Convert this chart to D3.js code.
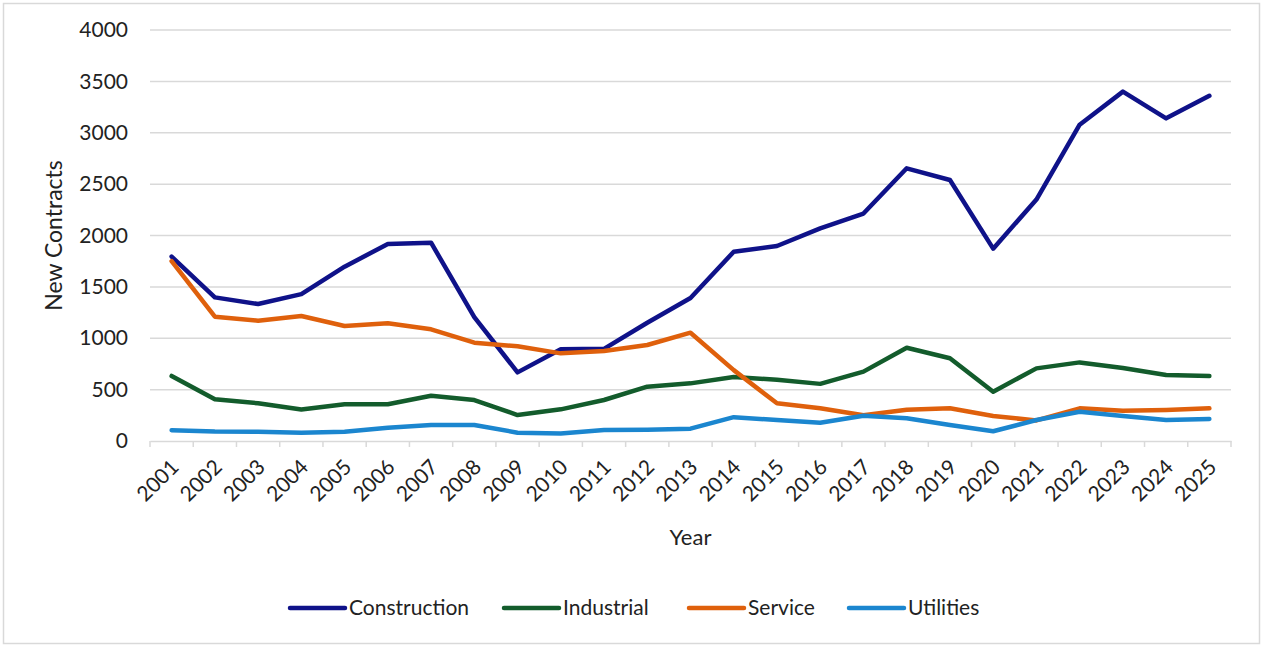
<!DOCTYPE html>
<html><head><meta charset="utf-8">
<script src="https://cdn.jsdelivr.net/npm/d3@7"></script>
<style>
html,body{margin:0;padding:0;background:#fff;}
svg text{font-family:Lato,"Open Sans",sans-serif;fill:#222;}
</style></head>
<body>
<svg id="chart" width="1263" height="647"></svg>
<script>
const years = ["2001","2002","2003","2004","2005","2006","2007","2008","2009","2010","2011","2012","2013","2014","2015","2016","2017","2018","2019","2020","2021","2022","2023","2024","2025"];
const construction = [1795,1398,1333,1430,1697,1917,1930,1205,668,892,897,1151,1392,1842,1898,2070,2214,2654,2540,1872,2350,3078,3400,3140,3360];
const industrial   = [633,406,367,306,357,357,441,399,253,308,399,529,561,622,597,556,675,908,805,480,707,765,710,642,633];
const service      = [1750,1210,1171,1217,1119,1145,1087,957,922,853,876,934,1054,690,367,318,250,305,318,243,200,318,295,302,318];
const utilities    = [104,92,91,81,91,129,156,156,81,72,107,110,120,232,204,178,246,221,156,95,204,285,243,204,214];
const yTicks = [0,500,1000,1500,2000,2500,3000,3500,4000];
const seriesNames = ["Construction","Industrial","Service","Utilities"];
const seriesColors = ["#0f1289","#135c2c","#df600c","#1b86cf"];
const seriesData = [construction, industrial, service, utilities];

const svg = d3.select("#chart");
const W = 1263, H = 647;
const m = {left:150, right:1231, top:30, bottom:441};

svg.append("rect").attr("x",3.5).attr("y",3.5).attr("width",W-7).attr("height",H-7)
  .attr("fill","#fff").attr("stroke","#d9d9d9").attr("stroke-width",1.5);

const x = d3.scaleBand().domain(years).range([m.left, m.right]).padding(0);
const y = d3.scaleLinear().domain([0,4000]).range([m.bottom, m.top]);

// gridlines
svg.append("g").selectAll("line").data(yTicks.filter(d=>d>0)).join("line")
  .attr("x1",m.left).attr("x2",m.right)
  .attr("y1",d=>y(d)).attr("y2",d=>y(d))
  .attr("stroke","#d9d9d9").attr("stroke-width",1.5);

// y axis labels
const yAxis = d3.axisLeft(y).tickValues(yTicks).tickFormat(d3.format("d")).tickSize(0).tickPadding(22);
const gy = svg.append("g").attr("transform",`translate(${m.left},0)`).call(yAxis);
gy.select(".domain").remove();
gy.selectAll("text").attr("font-size",21).attr("fill","#222").style("font-family","Lato, sans-serif");

// x axis
const xAxis = d3.axisBottom(x).tickSize(0).tickFormat("");
const gx = svg.append("g").attr("transform",`translate(0,${m.bottom})`).call(xAxis);
gx.select(".domain").attr("stroke","#d9d9d9").attr("stroke-width",1.5);
const bounds = years.map(d=>x(d)).concat([x(years[years.length-1])+x.bandwidth()]);
gx.selectAll("line.bt").data(bounds).join("line").attr("class","bt")
  .attr("x1",d=>d).attr("x2",d=>d).attr("y1",0).attr("y2",6)
  .attr("stroke","#d9d9d9").attr("stroke-width",1.5);
svg.append("g").selectAll("text").data(years).join("text")
  .attr("transform",d=>`translate(${x(d)+x.bandwidth()/2-2},${m.bottom+17}) rotate(-45)`)
  .attr("text-anchor","end").attr("dy","0.7em")
  .attr("font-size",21).text(d=>d);

// lines
const line = d3.line().x((d,i)=>x(years[i])+x.bandwidth()/2).y(d=>y(d));
seriesData.forEach((arr,k)=>{
  svg.append("path").datum(arr).attr("d",line)
    .attr("fill","none").attr("stroke",seriesColors[k]).attr("stroke-width",4.5)
    .attr("stroke-linejoin","round").attr("stroke-linecap","round");
});

// axis titles
svg.append("text").attr("x",(m.left+m.right)/2).attr("y",545)
  .attr("text-anchor","middle").attr("font-size",22).text("Year");
svg.append("text").attr("transform",`translate(62,${(m.top+m.bottom)/2}) rotate(-90)`)
  .attr("text-anchor","middle").attr("font-size",23).text("New Contracts");

// legend
const legX = [290,504,689,849];
const lg = svg.append("g");
seriesNames.forEach((n,k)=>{
  lg.append("line").attr("x1",legX[k]).attr("x2",legX[k]+55).attr("y1",608).attr("y2",608)
    .attr("stroke",seriesColors[k]).attr("stroke-width",4.5).attr("stroke-linecap","round");
  lg.append("text").attr("x",legX[k]+59).attr("y",608).attr("dy","0.35em")
    .attr("font-size",21).text(n);
});
</script>
</body></html>
